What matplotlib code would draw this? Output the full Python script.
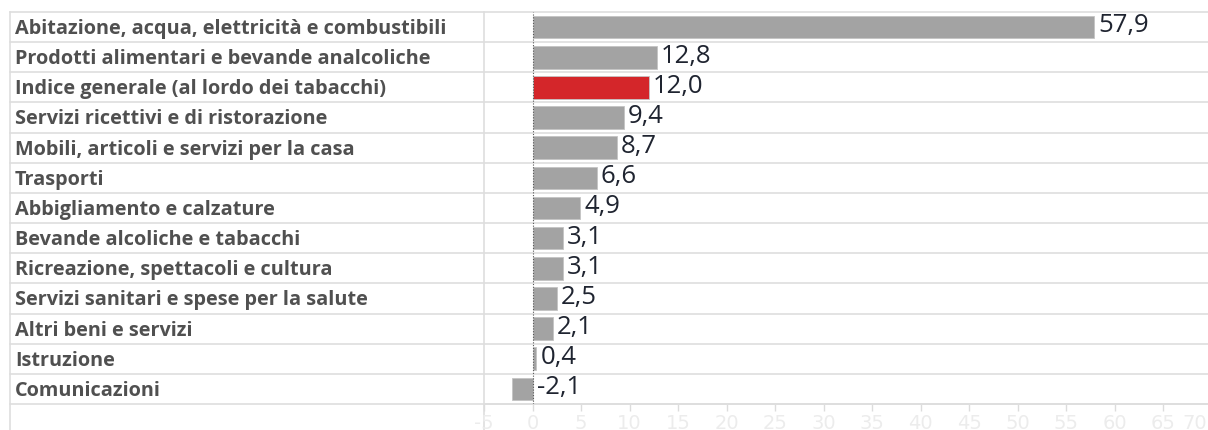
import matplotlib.pyplot as plt
from matplotlib.transforms import ScaledTranslation

categorie = [
    "Abitazione, acqua, elettricità e combustibili",
    "Prodotti alimentari e bevande analcoliche",
    "Indice generale (al lordo dei tabacchi)",
    "Servizi ricettivi e di ristorazione",
    "Mobili, articoli e servizi per la casa",
    "Trasporti",
    "Abbigliamento e calzature",
    "Bevande alcoliche e tabacchi",
    "Ricreazione, spettacoli e cultura",
    "Servizi sanitari e spese per la salute",
    "Altri beni e servizi",
    "Istruzione",
    "Comunicazioni",
]
valori = [57.9, 12.8, 12.0, 9.4, 8.7, 6.6, 4.9, 3.1, 3.1, 2.5, 2.1, 0.4, -2.1]
evidenziata = "Indice generale (al lordo dei tabacchi)"
tick_x = list(range(-5, 75, 5))

W, H = 1208, 431
fig = plt.figure(figsize=(W / 100, H / 100), dpi=100)

# axes: x from 484px to ~1211.7px, y from 13px to 405px
x0, x1 = 484, 1211.7
y_top, y_bot = 13, 405
ax = fig.add_axes([x0 / W, (H - y_bot) / H, (x1 - x0) / W, (y_bot - y_top) / H])

grigio = "#a3a3a3"
rosso = "#d4262a"
linea = "#dedede"

colori = [rosso if c == evidenziata else grigio for c in categorie]
pos = list(range(len(categorie)))
ax.barh(pos, valori, height=0.75, color=colori, edgecolor="#c4c4c4", linewidth=0.6, zorder=3)

for p, v in zip(pos, valori):
    testo = f"{v:.1f}".replace(".", ",")
    xv = max(v, 0)
    ax.annotate(testo, (xv, p), xytext=(3, 1.5), textcoords="offset points",
                ha="left", va="center", fontsize=18.5, color="#1f2430",
                family="Open Sans", zorder=4)

ax.set_xlim(-5, 70)
ax.set_ylim(len(categorie) - 0.5, -0.5)

# etichette categorie
left_frac = (10 - x0) / (x1 - x0)
text_frac = (15 - x0) / (x1 - x0)
ytr = ax.get_yaxis_transform()
for p, c in zip(pos, categorie):
    ax.text(text_frac, p + 0.03, c, transform=ytr, ha="left", va="center",
            fontsize=14.3, fontweight="bold", color="#505050", family="Open Sans",
            clip_on=False)

# linee orizzontali della tabella
for b in [i - 0.5 for i in range(len(categorie) + 1)]:
    ax.plot([left_frac, 1], [b, b], transform=ytr, color=linea, lw=1.2,
            clip_on=False, zorder=1)

# linee verticali (bordo sinistro e separatore)
bottom_frac = -(H - y_bot) / (y_bot - y_top)
for xf in [left_frac, 0]:
    ax.plot([xf, xf], [bottom_frac, 1], transform=ax.transAxes, color=linea,
            lw=1.2, clip_on=False, zorder=1)

# linea dello zero
ax.axvline(0, color="#555555", lw=0.8, ls=(0, (1, 1.5)), zorder=5)

for s in ["left", "right", "top"]:
    ax.spines[s].set_visible(False)
ax.spines["bottom"].set_color(linea)
ax.spines["bottom"].set_linewidth(1.2)

ax.set_yticks([])
ax.set_xticks(tick_x)
ax.set_xticklabels([str(t) for t in tick_x])
ax.tick_params(axis="x", length=5, width=1, color="#dcdcdc", labelcolor="#ececec",
               labelsize=14, pad=1.5)
for lab in ax.get_xticklabels():
    lab.set_family("Liberation Sans Narrow")
ultima = ax.get_xticklabels()[-1]
ultima.set_horizontalalignment("right")
ultima.set_transform(ultima.get_transform() + ScaledTranslation(-5 / 100, 0, fig.dpi_scale_trans))

fig.savefig("out.png", dpi=100)
